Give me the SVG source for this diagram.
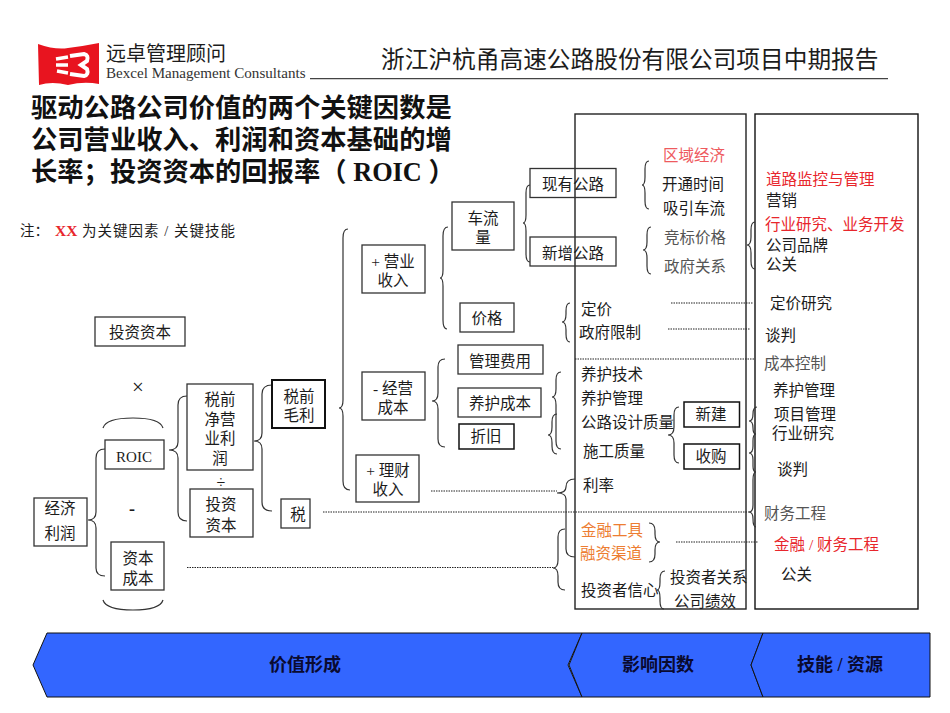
<svg xmlns="http://www.w3.org/2000/svg" width="950" height="713" viewBox="0 0 950 713">
<style>
text{font-family:"Liberation Serif","Noto Sans CJK SC",serif;font-size:15.5px;fill:#1c1c1c}
g[id^="n-"] text,#factors text,#skills text{transform:translateY(.8px)}
.c{text-anchor:middle}
.g{fill:#555}
.r{fill:#e8262c}
.lr{fill:#ee5a5e}
.o{fill:#ed7d31}
.b{fill:#fff;stroke:#333;stroke-width:1.3}
.t{fill:#fff;stroke:#111;stroke-width:2}
.p{fill:none;stroke:#222;stroke-width:1.4}
.br{fill:none;stroke:#333;stroke-width:1.2}
.d{fill:none;stroke:#222;stroke-width:1.2;stroke-dasharray:1.5 1}
.h{font-size:26.3px;font-weight:700;fill:#111}
.bn{fill:#3366ff;stroke:#111;stroke-width:1}
.bt{font-size:18px;font-weight:700;fill:#0a0a30}
</style>
<g id="logo">
<path d="M38 44Q55 50 68 48Q84 46 99 43V84Q84 81 68 85Q52 81 39 85Z" fill="#e8141f"/>
<path d="M56 59L68 57M56 65L68 65M57 71L68 73" stroke="#fff" stroke-width="3.500" fill="none"/>
<path d="M70 56L84 54Q89 55 87 61L81 65L87 69Q89 75 84 76L70 74" stroke="#fff" stroke-width="4" fill="none"/>
<text x="106" y="61" style="font-size:20px">远卓管理顾问</text>
<text x="106" y="78" style="font-size:15.100px;fill:#333">Bexcel Management Consultants</text>
</g>
<g id="header">
<text x="381" y="68" style="font-size:23.700px">浙江沪杭甬高速公路股份有限公司项目中期报告</text>
<path d="M310 78.700H888" stroke="#444" stroke-width="1.300"/>
<text class="h" x="31" y="117">驱动公路公司价值的两个关键因数是</text>
<text class="h" x="31" y="149">公司营业收入、利润和资本基础的增</text>
<text class="h" x="31" y="181">长率；投资资本的回报率（ ROIC ）</text>
<text x="20" y="236" style="font-size:14.500px">注：</text>
<text x="55" y="236" style="font-size:15.500px;font-weight:700;fill:#e8262c">XX</text>
<text x="82" y="236" style="font-size:14.500px" textLength="153">为关键因素 / 关键技能</text>
</g>
<g id="panels">
<rect class="p" x="575" y="114" width="171" height="495"/>
<rect class="p" x="755" y="114" width="163" height="495" style="stroke:#111"/>
</g>
<g id="connectors">
<path class="br" d="M103 428Q106 418 133 418Q160 418 163 428M103 600Q106 610 133 610Q160 610 163 600"/>
<path class="br" d="M105 449Q96 449 96 458V512Q96 520 88 520Q96 520 96 528V568Q96 576 105 576"/>
<path class="br" d="M187 396Q178 396 178 405V442Q178 450 169 450Q178 450 178 458V512Q178 521 187 521"/>
<path class="br" d="M272 385Q262 385 262 394V433Q262 441 254 441Q262 441 262 449V502Q262 511 272 511"/>
<path class="br" d="M348 229Q343 229 343 238V400Q343 408 339 408Q343 408 343 416V481Q343 490 350 490"/>
<path class="br" d="M448 227Q443 227 443 236V270Q443 278 440 278Q443 278 443 286V320Q443 329 447 329"/>
<path class="br" d="M530 185Q526 185 526 193V215Q526 223 523 223Q526 223 526 231V254Q526 262 530 262"/>
<path class="br" d="M445 359Q438 359 438 367V393Q438 401 432 401Q438 401 438 409V439Q438 447 445 447"/>
<path class="br" d="M570 303Q566 303 566 311V314Q566 322 562 322Q566 322 566 330V334Q566 342 570 342"/>
<path class="br" d="M561 372Q556 372 556 380V389Q556 397 552 397Q556 397 556 405V441Q556 449 561 449"/>
<path class="br" d="M557 414Q552 414 552 422V427Q552 435 548 435Q552 435 552 443V446Q552 454 557 454"/>
<path class="br" d="M575 479Q566 479 566 487Q566 493 557 493Q566 493 566 499V549Q566 557 575 557"/>
<path class="br" d="M565 529Q558 529 558 537V560Q558 568 553 568Q558 568 558 576V582Q558 590 565 590"/>
<path class="br" d="M649 161Q645 161 645 169V177Q645 185 642 185Q645 185 645 193V201Q645 209 649 209"/>
<path class="br" d="M651 227Q647 227 647 235V242Q647 250 643 250Q647 250 647 258V266Q647 274 651 274"/>
<path class="br" d="M755 222Q751 222 751 230V237Q751 245 747 245Q751 245 751 253V261Q751 269 755 269"/>
<path class="br" d="M679 407Q674 407 674 415V427Q674 435 668 435Q674 435 674 443V455Q674 463 679 463"/>
<path class="br" d="M665 571Q660 571 660 579V582Q660 590 657 590Q660 590 660 598V601Q660 609 664 609"/>
<path class="br" d="M649 523Q655 523 655 531V534Q655 542 660 542Q655 542 655 550V554Q655 562 649 562"/>
<path class="br" d="M757 407Q753 407 753 414Q753 421 749 421Q753 421 753 428Q753 434 756 434Q753 434 753 441V446Q753 453 749 453Q753 453 753 460V466Q753 472 756 472Q753 472 753 480V505Q753 512 749 512Q753 512 753 519Q753 527 756 527"/>
<path class="d" d="M323 512H750M187 567.500H553M431 491H557M575 359H755M671 303H753M668 329H750M676 542H758"/>
</g>
<g id="n-invested"><rect class="b" x="95" y="317" width="90" height="29"/><text class="c" x="140" y="337">投资资本</text></g>
<g id="n-times"><text class="c" x="138" y="393" style="font-size:21px">×</text></g>
<g id="n-roic"><rect class="b" x="105" y="440" width="59" height="29"/><text class="c" x="134" y="461" style="font-size:15px">ROIC</text></g>
<g id="n-minus"><text class="c" x="132" y="514" style="font-size:18px;font-weight:700">-</text></g>
<g id="n-cost"><rect class="b" x="111" y="542" width="53" height="48"/><text class="c" x="138" y="563">资本</text><text class="c" x="138" y="583">成本</text></g>
<g id="n-ep"><rect class="b" x="34" y="498" width="53" height="48"/><text class="c" x="60" y="513">经济</text><text class="c" x="60" y="538">利润</text></g>
<g id="n-nopat"><rect class="b" x="187" y="384" width="66" height="86"/><text class="c" x="220" y="404">税前</text><text class="c" x="220" y="424">净营</text><text class="c" x="220" y="443">业利</text><text class="c" x="220" y="463">润</text></g>
<g id="n-div"><text class="c" x="221" y="487" style="font-size:16px">÷</text></g>
<g id="n-capital"><rect class="b" x="190" y="489" width="63" height="48"/><text class="c" x="221" y="509">投资</text><text class="c" x="221" y="530">资本</text></g>
<g id="n-gross"><rect class="t" x="272" y="380" width="53" height="48"/><text class="c" x="299" y="401">税前</text><text class="c" x="299" y="420">毛利</text></g>
<g id="n-tax"><rect class="b" x="281" y="499" width="29" height="29"/><text class="c" x="298" y="519">税</text></g>
<g id="n-revenue"><rect class="b" x="362" y="245" width="63" height="48"/><text class="c" x="393" y="266">+ 营业</text><text class="c" x="393" y="285">收入</text></g>
<g id="n-opcost"><rect class="b" x="362" y="372" width="63" height="48"/><text class="c" x="393" y="393">- 经营</text><text class="c" x="393" y="412">成本</text></g>
<g id="n-fin"><rect class="b" x="356" y="455" width="63" height="47"/><text class="c" x="388" y="475">+ 理财</text><text class="c" x="388" y="494">收入</text></g>
<g id="n-traffic"><rect class="b" x="452" y="202" width="62" height="48"/><text class="c" x="483" y="223">车流</text><text class="c" x="483" y="242">量</text></g>
<g id="n-price"><rect class="b" x="460" y="303" width="54" height="29"/><text class="c" x="487" y="323">价格</text></g>
<g id="n-admin"><rect class="b" x="458" y="345" width="85" height="29"/><text class="c" x="500" y="366">管理费用</text></g>
<g id="n-maint"><rect class="b" x="458" y="388" width="83" height="29"/><text class="c" x="500" y="408">养护成本</text></g>
<g id="n-dep"><rect class="t" x="459" y="424" width="55" height="25" style="stroke-width:1.500"/><text class="c" x="486" y="441">折旧</text></g>
<g id="n-exist"><rect class="b" x="530" y="168.500" width="86" height="29" style="fill:none"/><text class="c" x="573" y="189">现有公路</text></g>
<g id="n-newroad"><rect class="b" x="530" y="237" width="86" height="29" style="fill:none"/><text class="c" x="573" y="258">新增公路</text></g>
<g id="n-build"><rect class="t" x="684" y="402" width="55.500" height="25" style="stroke-width:1.500"/><text class="c" x="711" y="419">新建</text></g>
<g id="n-acq"><rect class="t" x="684" y="444" width="55.500" height="25" style="stroke-width:1.500"/><text class="c" x="711" y="461">收购</text></g>
<g id="factors">
<text class="lr" x="663" y="160">区域经济</text>
<text x="662" y="189">开通时间</text>
<text x="663" y="213">吸引车流</text>
<text class="g" x="664" y="242">竞标价格</text>
<text class="g" x="664" y="271">政府关系</text>
<text x="581" y="314">定价</text>
<text x="579" y="337">政府限制</text>
<text x="581" y="379">养护技术</text>
<text x="581" y="403">养护管理</text>
<text x="581" y="427">公路设计质量</text>
<text x="583" y="456">施工质量</text>
<text x="583" y="490">利率</text>
<text class="o" x="581" y="535">金融工具</text>
<text class="o" x="580" y="558">融资渠道</text>
<text x="581" y="595">投资者信心</text>
<text x="670" y="582">投资者关系</text>
<text x="674" y="606">公司绩效</text>
</g>
<g id="skills">
<text class="r" x="766" y="184">道路监控与管理</text>
<text x="766" y="205">营销</text>
<text class="r" x="765" y="229">行业研究、业务开发</text>
<text x="766" y="250">公司品牌</text>
<text x="766" y="269">公关</text>
<text x="770" y="308">定价研究</text>
<text x="765" y="340">谈判</text>
<text class="g" x="764" y="368">成本控制</text>
<text x="773" y="395">养护管理</text>
<text x="774" y="419">项目管理</text>
<text x="772" y="438">行业研究</text>
<text x="777" y="474">谈判</text>
<text class="g" x="764" y="518">财务工程</text>
<text class="r" x="774" y="549">金融 / 财务工程</text>
<text x="781" y="579">公关</text>
</g>
<g id="banner">
<path class="bn" d="M47 633H582L568 665L582 697H47L33 665Z"/>
<path class="bn" d="M582 633H763L751 665L763 697H582L569 665Z"/>
<path class="bn" d="M763 633H930V697H763L751 665Z"/>
<text class="c bt" x="305" y="671">价值形成</text>
<text class="c bt" x="658" y="671">影响因数</text>
<text class="c bt" x="840" y="671">技能 / 资源</text>
</g>
</svg>
